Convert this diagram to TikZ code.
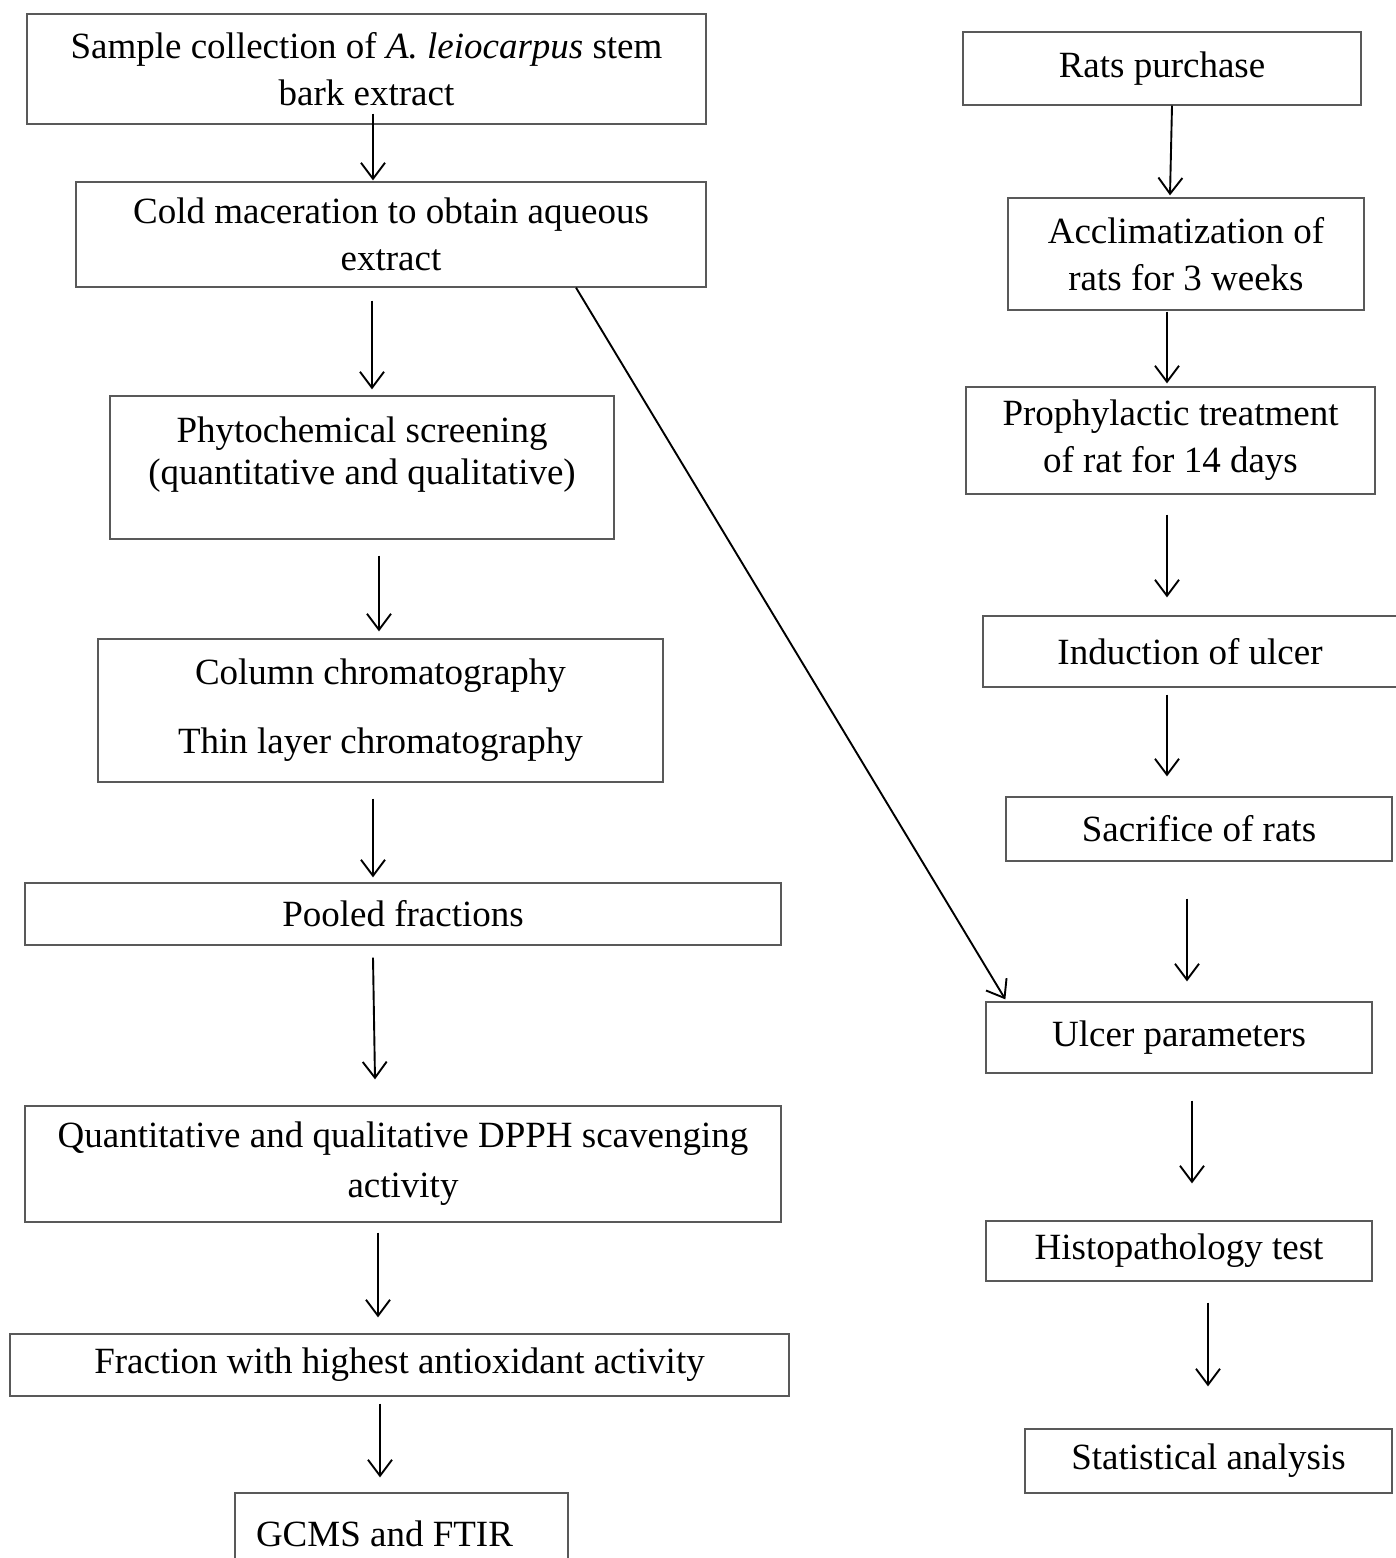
\documentclass[tikz,border=0pt]{standalone}
\usepackage{fontspec}
\setmainfont{Liberation Serif}
\usepackage{tikz}
\usetikzlibrary{arrows.meta,positioning,calc}

\begin{document}
\begin{tikzpicture}[
  x=1pt,y=-1pt,
  >={Straight Barb[length=16pt,width=24pt]},
  proc/.style={draw=black!65,line width=1.3pt,inner sep=0pt,align=center,font=\fontsize{37}{47}\selectfont},
  flow/.style={->,line width=1.9pt}
]
\useasboundingbox (0,0) rectangle (1395,1558);

% extract work (left)
\node[proc,minimum width=679pt,minimum height=110pt] (sample) at (366.5,69) {Sample collection of \textit{A. leiocarpus} stem\\bark extract};
\node[proc,minimum width=630pt,minimum height=105pt] (cold) at (391,234.5) {Cold maceration to obtain aqueous\\extract};
\node[proc,minimum width=504pt,minimum height=143pt] (phyto) at (362,467.5) {Phytochemical screening\\[-5pt](quantitative and qualitative)\\[-27pt]\strut};
\node[proc,minimum width=565pt,minimum height=143pt] (column) at (380.5,710.5) {Column chromatography\\[22pt]Thin layer chromatography};
\node[proc,minimum width=756pt,minimum height=62pt] (pooled) at (403,914) {Pooled fractions};
\node[proc,minimum width=756pt,minimum height=116pt] (dpph) at (403,1164) {Quantitative and qualitative DPPH scavenging\\[3pt]activity};
\node[proc,minimum width=779pt,minimum height=62pt] (fraction) at (399.5,1365) {Fraction with highest antioxidant activity};
\node[proc,minimum width=333pt,minimum height=82pt,text width=291pt,align=flush left] (gcms) at (401.5,1534) {GCMS and FTIR};

% animal work (right)
\node[proc,minimum width=398pt,minimum height=73pt] (rats) at (1162,68.5) {Rats purchase};
\node[proc,minimum width=356pt,minimum height=112pt] (accl) at (1186,254) {Acclimatization of\\rats for 3 weeks};
\node[proc,minimum width=409pt,minimum height=107pt] (proph) at (1170.5,440.5) {Prophylactic treatment\\of rat for 14 days};
\node[proc,minimum width=414pt,minimum height=71pt] (induct) at (1190,651.5) {Induction of ulcer};
\node[proc,minimum width=386pt,minimum height=64pt] (sacr) at (1199,829) {Sacrifice of rats};
\node[proc,minimum width=386pt,minimum height=71pt] (ulcer) at (1179,1037.5) {Ulcer parameters};
\node[proc,minimum width=386pt,minimum height=60pt] (histo) at (1179,1251) {Histopathology test};
\node[proc,minimum width=367pt,minimum height=64pt] (stat) at (1208.5,1461) {Statistical analysis};

% left arrows
\draw[flow] ([shift={(6.5,-11)}]sample.south) -- ([shift={(-18,-1)}]cold.north);
\draw[flow] ([shift={(-19,13)}]cold.south) -- ([shift={(10,-6)}]phyto.north);
\draw[flow] ([shift={(17,16)}]phyto.south) -- ([shift={(-1.5,-7)}]column.north);
\draw[flow] ([shift={(-7.5,16)}]column.south) -- ([shift={(-30,-5)}]pooled.north);
\draw[flow] ([shift={(-30,12)}]pooled.south) -- ([shift={(-28,-26)}]dpph.north);
\draw[flow] ([shift={(-25,10)}]dpph.south) -- ([shift={(-21.5,-16)}]fraction.north);
\draw[flow] ([shift={(-19.5,7)}]fraction.south) -- ([shift={(-21.5,-15)}]gcms.north);

% right arrows
\draw[flow] ([shift={(10,0)}]rats.south) -- ([shift={(-16,-2)}]accl.north);
\draw[flow] ([shift={(-19,1)}]accl.south) -- ([shift={(-3.5,-3)}]proph.north);
\draw[flow] ([shift={(-3.5,20)}]proph.south) -- ([shift={(-23,-18)}]induct.north);
\draw[flow] ([shift={(-23,7)}]induct.south) -- ([shift={(-32,-20)}]sacr.north);
\draw[flow] ([shift={(-12,37)}]sacr.south) -- ([shift={(8,-20)}]ulcer.north);
\draw[flow] ([shift={(13,27)}]ulcer.south) -- ([shift={(13,-37)}]histo.north);
\draw[flow] ([shift={(29,21)}]histo.south) -- ([shift={(-0.5,-42)}]stat.north);

% extract to ulcer parameters
\draw[flow] ([shift={(185,0)}]cold.south) -- ([shift={(20,-2)}]ulcer.north west);
\end{tikzpicture}
\end{document}
